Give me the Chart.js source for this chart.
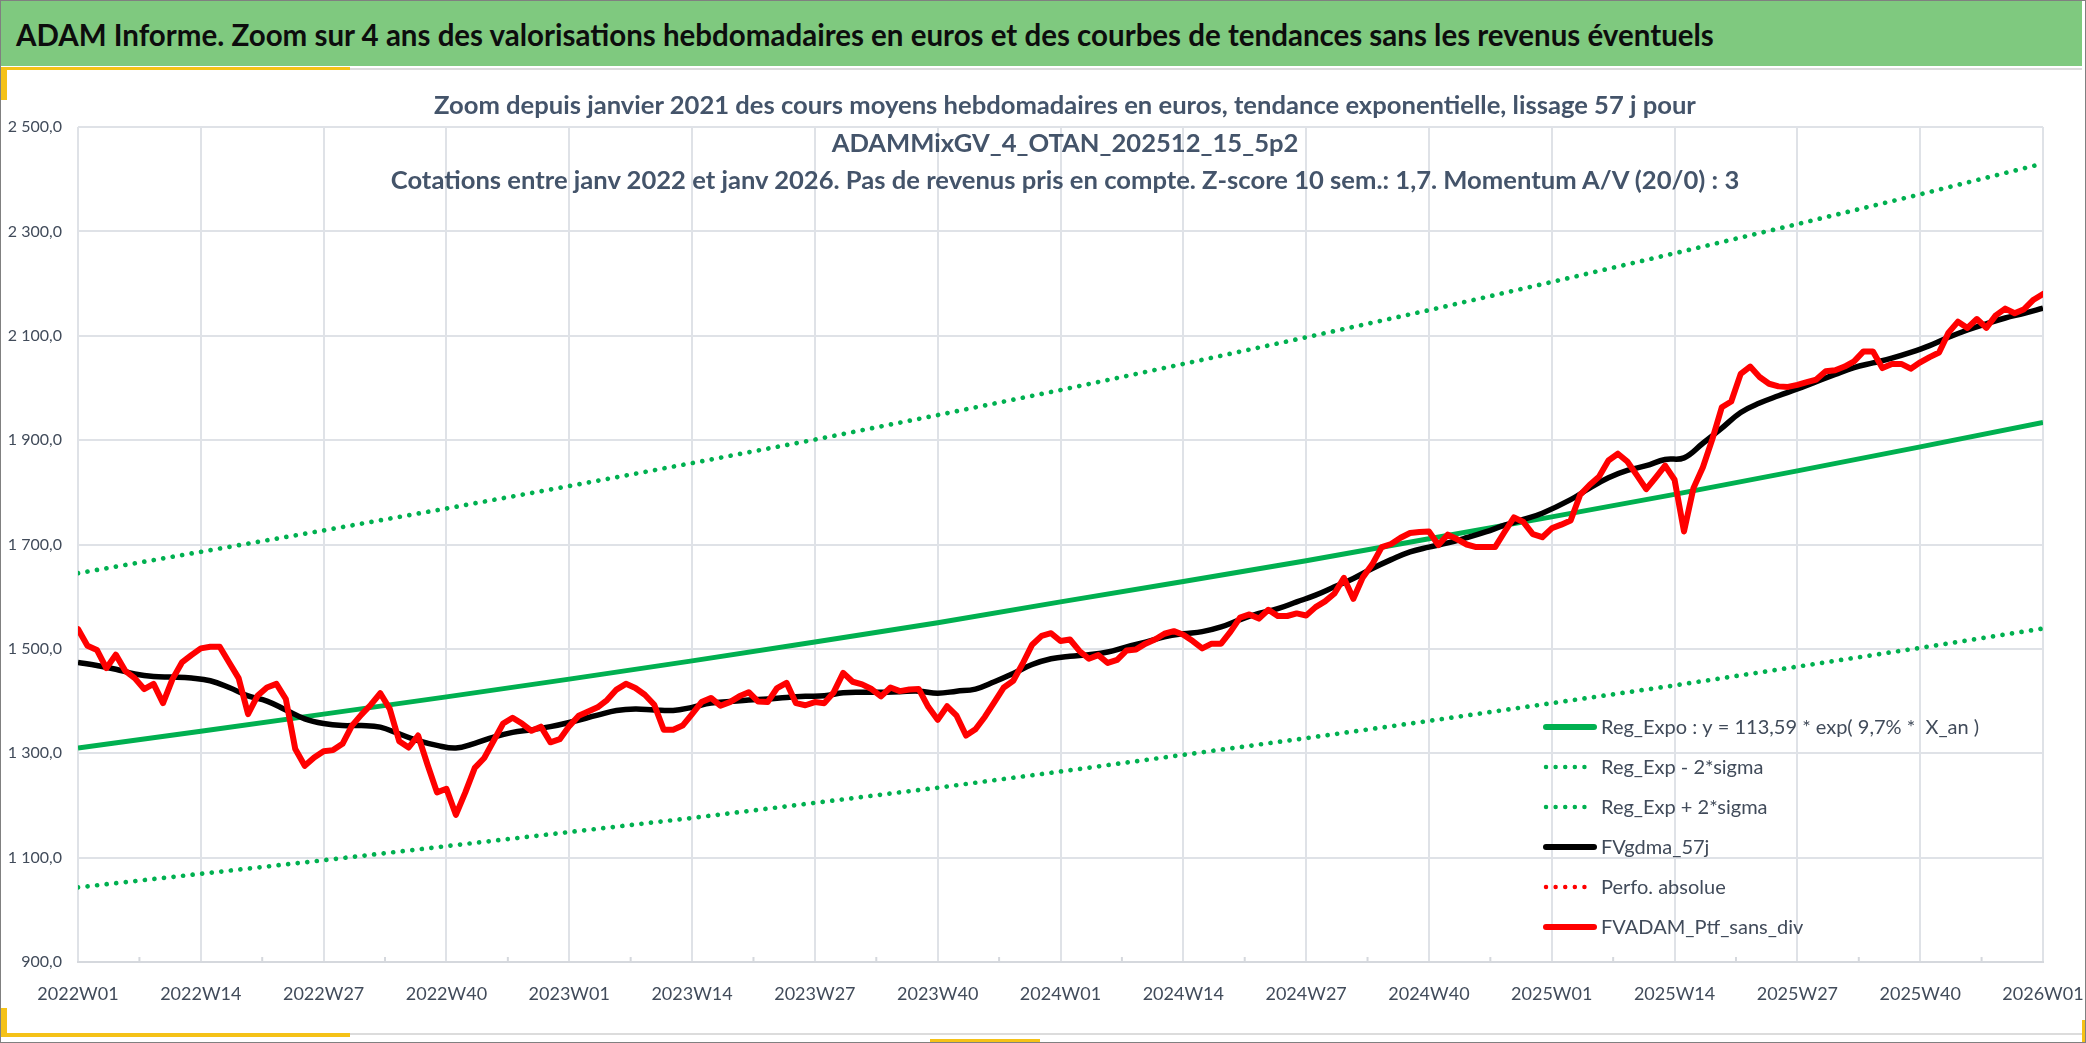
<!DOCTYPE html>
<html lang="fr">
<head>
<meta charset="utf-8">
<title>ADAM Informe - zoom 4 ans</title>
<script src="https://cdn.jsdelivr.net/npm/chart.js@4.4.1/dist/chart.umd.min.js"></script>
<style>
html, body { margin: 0; padding: 0; background: #fff; }
#page { position: relative; width: 2086px; height: 1043px; overflow: hidden; background: #fff; font-family: Lato, "Open Sans", sans-serif; }
#bandeau { position: absolute; left: 1px; top: 1px; width: 2081px; height: 65px; background: #7fc97f; }
#bandeau span { position: absolute; left: 15px; top: 50%; transform: translateY(-48%); font-weight: bold; font-size: 29.5px; color: #0d0d0d; white-space: nowrap; }
#zone { position: absolute; left: 0; top: 66px; width: 2086px; height: 977px; }
#titre { position: absolute; left: 45px; width: 2040px; top: 86px; text-align: center; font-weight: bold; font-size: 25.6px; line-height: 37.5px; color: #44546a; pointer-events: none; }
.deco { position: absolute; }
#cadre { position: absolute; left: 0; top: 0; width: 2086px; height: 1043px; box-sizing: border-box; border: 1px solid #808080; pointer-events: none; }
</style>
</head>
<body>
<div id="page">
    <div id="zone"><canvas id="graphe"></canvas></div>
    <div id="bandeau"><span>ADAM Informe. Zoom sur 4 ans des valorisations hebdomadaires en euros et des courbes de tendances sans les revenus éventuels</span></div>
    <div id="titre">Zoom depuis janvier 2021 des cours moyens hebdomadaires en euros, tendance exponentielle, lissage 57 j pour<br>ADAMMixGV_4_OTAN_202512_15_5p2<br>Cotations entre janv 2022 et janv 2026. Pas de revenus pris en compte. Z-score 10 sem.: 1,7. Momentum A/V (20/0) : 3</div>
    <!-- petits traits de la feuille Excel -->
    <div class="deco" style="left:350px;top:68px;width:1732px;height:2px;background:#dcdcdc"></div>
    <div class="deco" style="left:0;top:67px;width:350px;height:3px;background:#f5c217"></div>
    <div class="deco" style="left:1px;top:67px;width:6px;height:33px;background:#f5c217"></div>
    <div class="deco" style="left:350px;top:1033px;width:1732px;height:2px;background:#dcdcdc"></div>
    <div class="deco" style="left:0;top:1033px;width:350px;height:4px;background:#f5c217"></div>
    <div class="deco" style="left:1px;top:1008px;width:6px;height:29px;background:#f5c217"></div>
    <div class="deco" style="left:930px;top:1039px;width:110px;height:4px;background:#f5c217"></div>
    <div class="deco" style="left:2082px;top:1020px;width:4px;height:23px;background:#f5c217"></div>
    <div id="cadre"></div>
</div>
<script>
// --- Données ---
const etiquettesX = ['2022W01', '2022W14', '2022W27', '2022W40',
    '2023W01', '2023W14', '2023W27', '2023W40',
    '2024W01', '2024W14', '2024W27', '2024W40',
    '2025W01', '2025W14', '2025W27', '2025W40', '2026W01'];

// semaines (index depuis 2022W01) des points lus pour les tendances
const semainesTendance = [0, 13, 26, 39, 52, 65, 78, 91, 104, 117, 130, 143, 156, 169, 182, 195, 208];
const regExpo = [1310, 1342, 1375, 1408, 1442, 1477, 1513, 1550, 1590, 1629, 1669, 1711, 1753, 1796, 1841, 1887, 1934];
const regExpMoins = [1043, 1069, 1095, 1122, 1149, 1176, 1205, 1234, 1265, 1297, 1329, 1362, 1396, 1430, 1466, 1502, 1539];
const regExpPlus = [1645, 1686, 1727, 1769, 1812, 1856, 1901, 1948, 1996, 2046, 2097, 2149, 2203, 2258, 2314, 2371, 2430];

// moyenne mobile 57 j (lue environ toutes les deux semaines)
const semainesGdma = [0, 2, 4, 6, 8, 10, 12, 14, 16, 18, 20, 22, 24, 26, 28, 30, 32, 34, 36, 38, 40, 42, 44, 46, 48, 50, 52,
    55, 57, 59, 61, 63, 65, 67, 69, 71, 73, 75, 77, 79, 81, 83, 85, 87, 89, 91, 93, 95, 97, 99, 101, 103,
    105, 107, 109, 111, 113, 115, 117, 119, 121, 123, 125, 127, 129, 131, 133, 135, 137, 139, 141, 143, 145, 147, 149, 151, 153, 155,
    158, 160, 162, 164, 166, 168, 170, 172, 174, 176, 178, 180, 182, 184, 186, 188, 190, 192, 194, 196, 198, 200, 202, 204, 206, 208];
const fvGdma57j = [1474, 1468, 1461, 1452, 1447, 1446, 1444, 1439, 1426, 1410, 1400, 1383, 1366, 1357, 1353, 1353, 1350, 1337, 1324, 1315, 1310, 1319, 1331, 1340, 1345, 1351, 1359,
    1373, 1382, 1385, 1383, 1382, 1388, 1396, 1399, 1402, 1404, 1407, 1409, 1410, 1416, 1417, 1417, 1418, 1419, 1415, 1419, 1423, 1437, 1453, 1470, 1481,
    1486, 1489, 1494, 1504, 1513, 1523, 1529, 1533, 1542, 1556, 1568, 1577, 1590, 1603, 1619, 1635, 1654, 1671, 1686, 1695, 1703, 1713, 1724, 1737, 1748, 1760,
    1786, 1808, 1828, 1842, 1851, 1863, 1866, 1894, 1923, 1953, 1971, 1985, 1998, 2012, 2026, 2039, 2048, 2057, 2068, 2081, 2097, 2111, 2123, 2134, 2143, 2153];

// cours hebdomadaires, de 2022W01 (index 0) à 2026W01 (index 208)
const fvAdamPtf = [
    1538, 1506, 1498, 1463, 1489, 1458, 1444, 1423, 1433, 1396, 1442, 1474, 1488, 1501, 1504, 1504, 1474, 1444, 1375, 1410,
    1426, 1433, 1404, 1308, 1276, 1292, 1304, 1306, 1318, 1353, 1374, 1393, 1415, 1385, 1323, 1311, 1334, 1278, 1225, 1232,
    1182, 1225, 1272, 1291, 1324, 1357, 1368, 1357, 1343, 1351, 1321, 1327, 1352, 1372, 1380, 1388, 1402, 1422, 1433, 1425,
    1412, 1393, 1345, 1345, 1353, 1375, 1398, 1406, 1391, 1398, 1409, 1417, 1399, 1398, 1425, 1435, 1396, 1392, 1398, 1396,
    1417, 1454, 1437, 1432, 1423, 1409, 1426, 1419, 1422, 1423, 1389, 1364, 1390, 1372, 1334, 1346, 1370, 1398, 1426, 1439,
    1472, 1508, 1525, 1530, 1515, 1518, 1496, 1481, 1488, 1473, 1479, 1497, 1499, 1510, 1518, 1529, 1534, 1527, 1515, 1501,
    1510, 1510, 1533, 1560, 1566, 1558, 1575, 1563, 1563, 1568, 1564, 1580, 1591, 1606, 1636, 1596, 1637, 1662, 1695, 1701,
    1713, 1722, 1724, 1725, 1699, 1719, 1710, 1700, 1695, 1695, 1695, 1724, 1752, 1743, 1720, 1714, 1731, 1738, 1746, 1795,
    1814, 1830, 1861, 1874, 1859, 1833, 1806, 1828, 1851, 1824, 1725, 1808, 1848, 1902, 1963, 1974, 2027, 2041, 2021, 2008,
    2003, 2002, 2006, 2011, 2016, 2032, 2034, 2041, 2051, 2070, 2070, 2038, 2046, 2046, 2037, 2049, 2059, 2068, 2106, 2127,
    2115, 2132, 2115, 2139, 2152, 2143, 2151, 2169, 2180
];

// série présente dans la légende, sans point visible
const perfoAbsolue = [];

// --- Outils ---
function enPoints(xs, ys) {
    return ys.map((y, i) => ({ x: xs[i], y: y }));
}

function formatFr(v) {
    const ent = Math.round(v);
    let txt = String(ent);
    if (ent >= 1000) txt = Math.floor(ent / 1000) + ' ' + String(ent % 1000).padStart(3, '0');
    return txt + ',0';
}

// petites graduations intérieures entre deux étiquettes
const graduations = {
    id: 'graduations',
    beforeDatasetsDraw(chart) {
        const c = chart.ctx, sx = chart.scales.x, bas = chart.chartArea.bottom;
        c.save();
        c.strokeStyle = '#d5d8dd';
        c.lineWidth = 2;
        for (let k = 0; k < 16; k++) {
            const px = sx.getPixelForValue(13 * k + 6.5);
            c.beginPath();
            c.moveTo(px, bas);
            c.lineTo(px, bas - 5);
            c.stroke();
        }
        c.restore();
    }
};

// légende façon Excel, posée dans la zone de tracé
const legendeExcel = {
    id: 'legendeExcel',
    afterDatasetsDraw(chart) {
        const c = chart.ctx;
        const xDebut = 1546, xFin = 1594, xTexte = 1601;
        const yPremier = 661, pas = 40;
        c.save();
        chart.data.datasets.forEach((ds, i) => {
            const y = yPremier + i * pas;
            const pointille = ds.borderDash && ds.borderDash.length;
            c.beginPath();
            c.strokeStyle = ds.borderColor;
            c.lineWidth = pointille ? 4.5 : 6;
            c.lineCap = 'round';
            c.setLineDash(pointille ? [0.01, 9.6] : []);
            c.moveTo(xDebut, y);
            c.lineTo(xFin, y);
            c.stroke();
            c.setLineDash([]);
            c.fillStyle = '#414b5a';
            c.font = '20px Lato';
            c.textBaseline = 'middle';
            c.textAlign = 'left';
            c.fillText(ds.label, xTexte, y + 1);
        });
        c.restore();
    }
};

Chart.defaults.font.family = 'Lato';

const ctx = document.getElementById('graphe').getContext('2d');
const graphe = new Chart(ctx, {
    type: 'line',
    data: {
        datasets: [
            {
                label: 'Reg_Expo : y = 113,59 * exp( 9,7% *  X_an )',
                data: enPoints(semainesTendance, regExpo),
                borderColor: '#00b050', borderWidth: 5, pointRadius: 0, order: 2
            },
            {
                label: 'Reg_Exp - 2*sigma',
                data: enPoints(semainesTendance, regExpMoins),
                borderColor: '#00b050', borderWidth: 4.7, borderDash: [0.01, 9.6], borderCapStyle: 'round',
                pointRadius: 0, order: 3
            },
            {
                label: 'Reg_Exp + 2*sigma',
                data: enPoints(semainesTendance, regExpPlus),
                borderColor: '#00b050', borderWidth: 4.7, borderDash: [0.01, 9.6], borderCapStyle: 'round',
                pointRadius: 0, order: 3
            },
            {
                label: 'FVgdma_57j',
                data: enPoints(semainesGdma, fvGdma57j),
                borderColor: '#000000', borderWidth: 5.5, pointRadius: 0, tension: 0.4,
                borderJoinStyle: 'round', order: 1
            },
            {
                label: 'Perfo. absolue',
                data: perfoAbsolue,
                borderColor: '#ff0000', borderWidth: 4.7, borderDash: [0.01, 9.6], borderCapStyle: 'round',
                pointRadius: 0, order: 1
            },
            {
                label: 'FVADAM_Ptf_sans_div',
                data: fvAdamPtf.map((v, i) => ({ x: i, y: v })),
                borderColor: '#ff0000', borderWidth: 6, pointRadius: 0,
                borderJoinStyle: 'round', borderCapStyle: 'round', order: 0
            }
        ]
    },
    options: {
        responsive: true,
        maintainAspectRatio: false,
        animation: false,
        events: [],
        layout: { padding: { left: 0, right: 43, top: 61, bottom: 0 } },
        plugins: {
            legend: { display: false },
            title: { display: false },
            tooltip: { enabled: false }
        },
        scales: {
            x: {
                type: 'linear',
                min: 0,
                max: 208,
                afterFit: (axis) => { axis.height = 81; },
                grid: { color: '#dfe2e7', lineWidth: 2, drawTicks: true, tickLength: 19, tickColor: 'rgba(0,0,0,0)' },
                border: { color: '#d5d8dd', width: 2 },
                ticks: {
                    stepSize: 13,
                    autoSkip: false,
                    maxRotation: 0,
                    padding: 2,
                    color: '#414b5a',
                    font: { size: 18 },
                    callback: (v) => etiquettesX[Math.round(v / 13)] || ''
                }
            },
            y: {
                min: 900,
                max: 2500,
                afterFit: (axis) => { axis.width = 78; },
                grid: { color: '#dfe2e7', lineWidth: 2, drawTicks: false },
                border: { display: false },
                ticks: {
                    stepSize: 200,
                    padding: 16,
                    color: '#414b5a',
                    font: { size: 16 },
                    callback: (v) => formatFr(v)
                }
            }
        }
    },
    plugins: [graduations, legendeExcel]
});
</script>
</body>
</html>
